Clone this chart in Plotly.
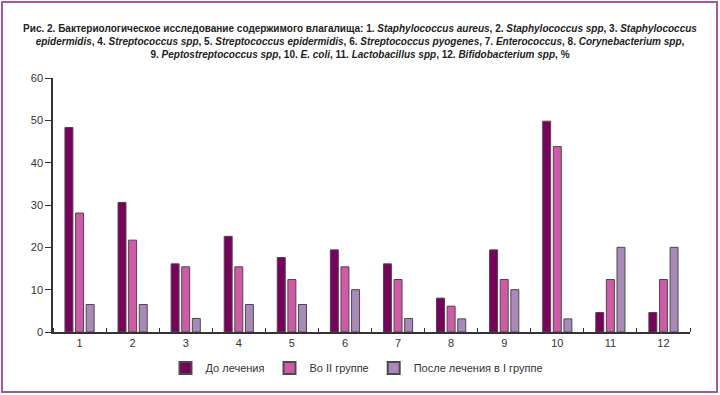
import plotly.graph_objects as go

categories = [1, 2, 3, 4, 5, 6, 7, 8, 9, 10, 11, 12]
tick_labels = ["1", "2", "3", "4", "5", "6", "7", "8", "9", "10", "11", "12"]
before = [48.3, 30.6, 16.1, 22.6, 17.6, 19.4, 16.1, 8.0, 19.4, 49.8, 4.6, 4.6]
group2 = [28.1, 21.7, 15.4, 15.4, 12.4, 15.4, 12.4, 6.1, 12.4, 43.8, 12.4, 12.4]
after1 = [6.5, 6.5, 3.2, 6.5, 6.5, 10.0, 3.2, 3.1, 10.0, 3.1, 20.0, 20.0]
series_names = ["До лечения", "Во II группе", "После лечения в I группе"]
colors = ["#7a005e", "#d05aa8", "#a889b9"]

fig = go.Figure()
for name, vals, col in zip(series_names, [before, group2, after1], colors):
    fig.add_trace(go.Bar(x=categories, y=vals, name=name,
                         marker=dict(color=col, line=dict(color="#4a4a4a", width=1))))

title = ("<b>Рис. 2. Бактериологическое исследование содержимого влагалища: 1. <i>Staphylococcus aureus</i>, "
         "2. <i>Staphylococcus spp</i>, 3. <i>Staphylococcus</i><br><i>epidermidis</i>, 4. <i>Streptococcus spp</i>, "
         "5. <i>Streptococcus epidermidis</i>, 6. <i>Streptococcus pyogenes</i>, 7. <i>Enterococcus</i>, "
         "8. <i>Corynebacterium spp</i>,<br>9. <i>Peptostreptococcus spp</i>, 10. <i>E. coli</i>, "
         "11. <i>Lactobacillus spp</i>, 12. <i>Bifidobacterium spp</i>, %</b>")

L, R, T, B = 53, 30, 78, 63
W, H = 720, 395
pw, ph = W - L - R, H - T - B

def px_x(x):
    return (x - L) / pw

def px_y(y):
    return (H - B - y) / ph

fig.add_shape(type="rect", xref="paper", yref="paper",
              x0=px_x(2), x1=px_x(717), y0=px_y(392), y1=px_y(2),
              line=dict(color="#a8589a", width=2), fillcolor="rgba(0,0,0,0)")

fig.update_layout(
    width=W, height=H,
    margin=dict(l=L, r=R, t=T, b=B, autoexpand=False),
    paper_bgcolor="white", plot_bgcolor="white",
    font=dict(family="Liberation Sans, Arial", size=11, color="#333333"),
    title=dict(text=title, x=0.5, xref="container", xanchor="center",
               y=1 - 32 / H, yref="container", yanchor="top",
               font=dict(size=10, color="#222222", family="Liberation Sans, Arial")),
    barmode="group", bargap=0.4, bargroupgap=0.25,
    showlegend=True,
    legend=dict(orientation="h", x=357 / W, xref="container", xanchor="center",
                y=1 - 368 / H, yref="container", yanchor="middle",
                font=dict(size=11, color="#333333", family="Liberation Sans, Arial"),
                itemsizing="constant", tracegroupgap=0, itemwidth=30),
    xaxis=dict(range=[0.5, 12.5], tickmode="array", tickvals=categories, ticktext=tick_labels,
               showline=True, linecolor="#333333", linewidth=1.5, ticks="", showgrid=False,
               zeroline=False, tickfont=dict(size=11, family="Liberation Sans, Arial", color="#333333"),
               minor=dict(tickmode="array", tickvals=[i + 0.5 for i in range(0, 13)], ticks="inside",
                          ticklen=4, tickcolor="#333333", tickwidth=1, showgrid=False)),
    yaxis=dict(range=[0, 60], tickmode="array", tickvals=[0, 10, 20, 30, 40, 50, 60],
               showline=True, linecolor="#333333", linewidth=1.5, ticks="outside", ticklen=6,
               tickcolor="#333333", showgrid=False, zeroline=False,
               tickfont=dict(size=11, family="Liberation Sans, Arial", color="#333333")),
)

fig.write_html("out.html", config={"displayModeBar": False},
               post_script="document.body.style.margin='0';")
